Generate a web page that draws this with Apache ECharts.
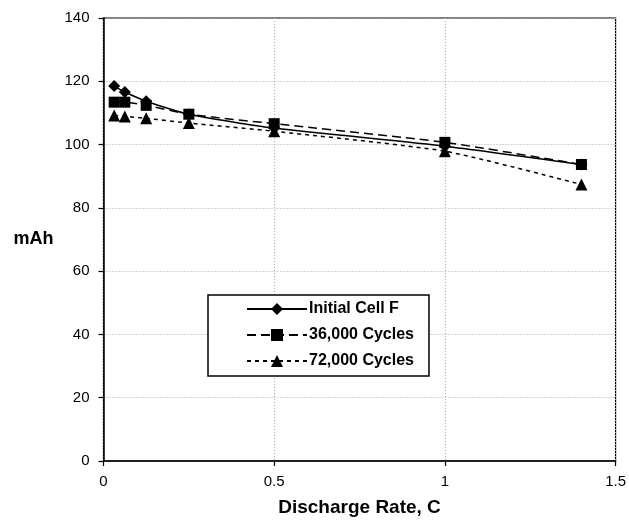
<!DOCTYPE html>
<html><head><meta charset="utf-8">
<script src="https://cdn.jsdelivr.net/npm/echarts@6/dist/echarts.min.js"></script>
<style>html,body{margin:0;padding:0;background:#fff}#c{width:629px;height:529px}</style>
</head><body><div id="c"></div>
<script>
const rates = [0.03125, 0.0625, 0.125, 0.25, 0.5, 1.0, 1.4];
const initialCell = [118.5, 116.6, 113.7, 109.6, 105.2, 99.5, 93.7];
const cycles36k = [113.4, 113.4, 112.4, 109.6, 106.6, 100.7, 93.7];
const cycles72k = [109.2, 108.9, 108.3, 106.8, 104.2, 97.9, 87.4];
const seriesNames = ['Initial Cell F', '36,000 Cycles', '72,000 Cycles'];
const xTicks = [0, 0.5, 1, 1.5];
const yTicks = [0, 20, 40, 60, 80, 100, 120, 140];

const FONT = '"Liberation Sans", Arial, sans-serif';
const pair = arr => rates.map((x, i) => [x, arr[i]]);
const chart = echarts.init(document.getElementById('c'), null, {renderer: 'canvas'});
chart.setOption({
  animation: false,
  backgroundColor: '#fff',
  textStyle: {fontFamily: FONT},
  grid: {left: 103.5, right: 11, top: 18, bottom: 68, show: true, borderColor: '#000', borderWidth: 1.2},
  legend: {
    orient: 'vertical', left: 208, top: 295,
    itemWidth: 60, itemHeight: 15, itemGap: 10,
    padding: [6, 15, 7, 38],
    borderColor: '#000', borderWidth: 1.5, backgroundColor: '#fff',
    textStyle: {fontFamily: FONT, fontWeight: 'bold', fontSize: 16, color: '#000', padding: [0, 0, 0, -3]},
    data: seriesNames
  },
  xAxis: {
    type: 'value', min: xTicks[0], max: xTicks[xTicks.length - 1], interval: 0.5,
    name: 'Discharge Rate, C', nameLocation: 'middle', nameGap: 37,
    nameTextStyle: {fontFamily: FONT, fontWeight: 'bold', fontSize: 19, color: '#000'},
    axisLine: {lineStyle: {color: '#000', width: 1.5}},
    axisTick: {show: true, inside: false, length: 5, lineStyle: {color: '#000', width: 1.2}},
    axisLabel: {color: '#000', fontSize: 15, margin: 13, fontFamily: FONT},
    splitLine: {show: true, lineStyle: {color: '#aaa', type: [1, 2], width: 1}}
  },
  yAxis: {
    type: 'value', min: yTicks[0], max: yTicks[yTicks.length - 1], interval: 20,
    name: 'mAh', nameLocation: 'middle', nameGap: 50, nameRotate: 0,
    nameTextStyle: {fontFamily: FONT, fontWeight: 'bold', fontSize: 18, color: '#000'},
    axisLine: {show: true, lineStyle: {color: '#000', width: 1.5}},
    axisTick: {show: true, inside: false, length: 5, lineStyle: {color: '#000', width: 1.2}},
    axisLabel: {color: '#000', fontSize: 15, margin: 14, fontFamily: FONT},
    splitLine: {show: true, lineStyle: {color: '#aaa', type: [1, 2], width: 1}}
  },
  series: [
    {name: seriesNames[0], type: 'line', data: pair(initialCell), smooth: 0.2, z: 2,
     symbol: 'diamond', symbolSize: 12,
     itemStyle: {color: '#000'}, lineStyle: {color: '#000', width: 1.5, type: 'solid'}},
    {name: seriesNames[1], type: 'line', data: pair(cycles36k), smooth: 0.2, z: 3,
     symbol: 'rect', symbolSize: 11,
     itemStyle: {color: '#000'}, lineStyle: {color: '#000', width: 1.5, type: [9, 5]}},
    {name: seriesNames[2], type: 'line', data: pair(cycles72k), smooth: 0.2, z: 4,
     symbol: 'triangle', symbolSize: 12,
     itemStyle: {color: '#000'}, lineStyle: {color: '#000', width: 1.5, type: [4, 4]}}
  ]
});
</script></body></html>
